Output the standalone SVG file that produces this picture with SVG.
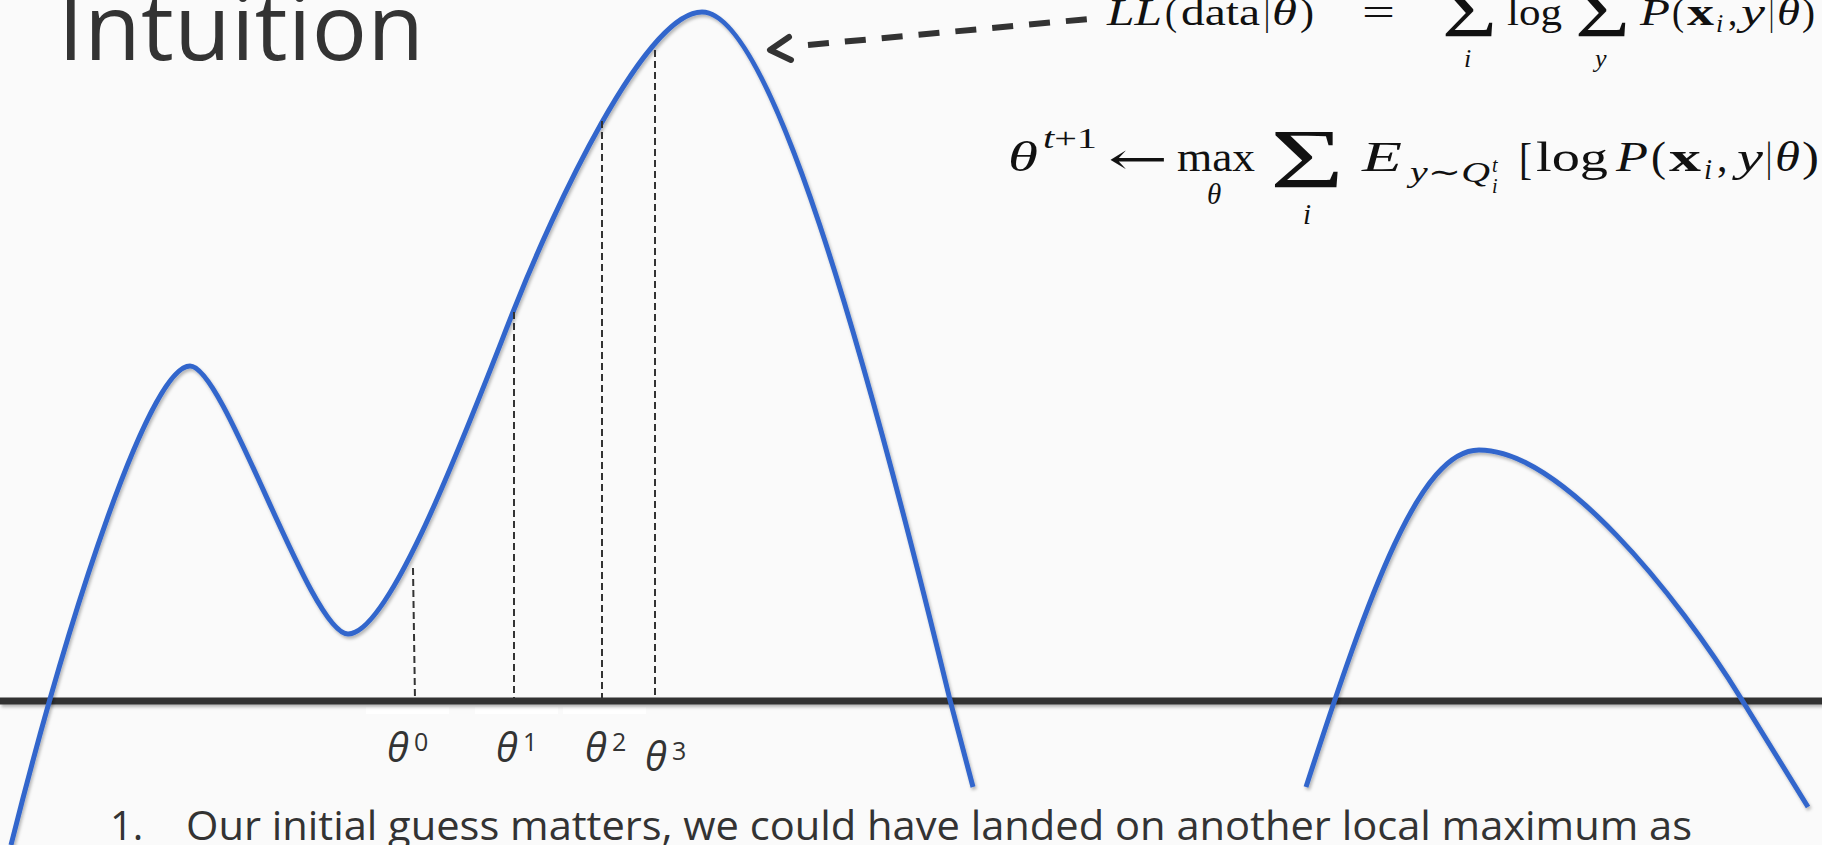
<svg xmlns="http://www.w3.org/2000/svg" width="1822" height="845" viewBox="0 0 1822 845">
<defs>
<filter id="sh" filterUnits="userSpaceOnUse" x="0" y="0" width="1822" height="845">
<feDropShadow dx="1.5" dy="2.5" stdDeviation="1.5" flood-color="#000" flood-opacity="0.28"/>
</filter>
<style>
.curve{fill:none;stroke:#3366cc;stroke-width:5;filter:url(#sh)}
.axis{stroke:#333;stroke-width:7;filter:url(#sh)}
.guide{stroke:#333;stroke-width:2;stroke-dasharray:7 4;fill:none}
.ptr{stroke:#333;stroke-width:6;fill:none}
.ui{font-family:"Open Sans","Noto Sans",sans-serif;fill:#333}
.m{font-family:"Liberation Serif","DejaVu Serif",serif;fill:#111;font-size:37px}
.m2{font-size:42px}
.i{font-style:italic}
.s{font-size:26px}
.s2{font-size:29px}
.ss{font-size:20px}
.big{font-size:74px}
.big2{font-size:84px}
.box{fill:#ffffff}
</style>
</defs>
<rect width="1822" height="845" fill="#fafafa"/>

<g id="title">
<text class="ui" x="58" y="60" font-size="92" textLength="366">Intuition</text>
</g>

<g id="label-boxes">
<rect class="box" x="366" y="707" width="83" height="7"/>
<rect class="box" x="475" y="707" width="83" height="7"/>
<rect class="box" x="563" y="707" width="83" height="7"/>
</g>

<g id="axis">
<line class="axis" x1="0" y1="701" x2="1822" y2="701"/>
</g>

<g id="curves">
<path class="curve" d="M 11 845 C 70 610 150 366 190 366 C 225 366 310 634 348 634 C 390 634 465 434 513 312 C 553 210 645 12 702 12 C 770 12 865 350 950 700 L 973 787"/>
<path class="curve" d="M 1306 787 C 1370 590 1420 450 1479 450 C 1560 450 1676 593 1742 700 L 1808 807"/>
</g>

<g id="guides">
<line class="guide" x1="413" y1="568" x2="415" y2="700"/>
<line class="guide" x1="514" y1="312" x2="514" y2="700"/>
<line class="guide" x1="602" y1="121" x2="602" y2="700"/>
<line class="guide" x1="655" y1="50" x2="655" y2="700"/>
</g>

<g id="connectors">
<path class="ptr" d="M 808 45 L 1089 19" stroke-dasharray="21 16"/>
<polyline class="ptr" points="789,37 770,50 791,60" stroke-linecap="round" stroke-linejoin="round"/>
</g>

<g id="theta-labels" class="ui">
<text x="387" y="762" font-size="40" font-style="italic">θ</text><text x="414" y="751" font-size="25">0</text>
<text x="496" y="762" font-size="40" font-style="italic">θ</text><text x="523" y="751" font-size="25">1</text>
<text x="585" y="762" font-size="40" font-style="italic">θ</text><text x="612" y="751" font-size="25">2</text>
<text x="645" y="771" font-size="40" font-style="italic">θ</text><text x="672" y="760" font-size="25">3</text>
</g>

<g id="formula-ll" class="m">
<text class="i" x="1107" y="25" textLength="55" lengthAdjust="spacingAndGlyphs">LL</text>
<text x="1165" y="25" textLength="12" lengthAdjust="spacingAndGlyphs">(</text>
<text x="1181" y="25" textLength="79" lengthAdjust="spacingAndGlyphs">data</text>
<text x="1264" y="25" textLength="6" lengthAdjust="spacingAndGlyphs">|</text>
<text class="i" x="1272" y="25" textLength="25" lengthAdjust="spacingAndGlyphs">θ</text>
<text x="1300" y="25" textLength="14" lengthAdjust="spacingAndGlyphs">)</text>
<text x="1362" y="25" textLength="33" lengthAdjust="spacingAndGlyphs">=</text>
<text class="big" x="1442" y="37" textLength="55" lengthAdjust="spacingAndGlyphs">Σ</text>
<text class="i s" x="1464" y="67">i</text>
<text x="1507" y="25" textLength="55" lengthAdjust="spacingAndGlyphs">log</text>
<text class="big" x="1575" y="37" textLength="55" lengthAdjust="spacingAndGlyphs">Σ</text>
<text class="i s" x="1595" y="67">y</text>
<text class="i" x="1640" y="25" textLength="30" lengthAdjust="spacingAndGlyphs">P</text>
<text x="1672" y="25" textLength="12" lengthAdjust="spacingAndGlyphs">(</text>
<text x="1687" y="25" font-weight="bold" textLength="27" lengthAdjust="spacingAndGlyphs">x</text>
<text class="i s" x="1716" y="32">i</text>
<text x="1728" y="25">,</text>
<text class="i" x="1741" y="25" textLength="24" lengthAdjust="spacingAndGlyphs">y</text>
<text x="1769" y="25" textLength="5" lengthAdjust="spacingAndGlyphs">|</text>
<text class="i" x="1777" y="25" textLength="23" lengthAdjust="spacingAndGlyphs">θ</text>
<text x="1802" y="25" textLength="13" lengthAdjust="spacingAndGlyphs">)</text>
</g>

<g id="formula-update" class="m m2">
<text class="i" x="1008" y="171" textLength="30" lengthAdjust="spacingAndGlyphs">θ</text>
<text class="s2" x="1043" y="148" textLength="54" lengthAdjust="spacingAndGlyphs"><tspan font-style="italic">t</tspan>+1</text>
<text x="1108" y="174" font-family="DejaVu Serif, serif" font-size="44" textLength="60" lengthAdjust="spacingAndGlyphs">←</text>
<text x="1177" y="171" textLength="78" lengthAdjust="spacingAndGlyphs">max</text>
<text class="i s2" x="1207" y="204">θ</text>
<text class="big2" x="1270" y="188" textLength="74" lengthAdjust="spacingAndGlyphs">Σ</text>
<text class="i s2" x="1303" y="224">i</text>
<text class="i" x="1362" y="171" textLength="40" lengthAdjust="spacingAndGlyphs">E</text>
<text class="s2" x="1410" y="182" textLength="80" lengthAdjust="spacingAndGlyphs"><tspan font-style="italic">y</tspan>∼<tspan font-style="italic">Q</tspan></text>
<text class="i ss" x="1492" y="172">t</text>
<text class="i ss" x="1492" y="193">i</text>
<text x="1519" y="174" font-size="45" textLength="13" lengthAdjust="spacingAndGlyphs">[</text>
<text x="1536" y="171" textLength="72" lengthAdjust="spacingAndGlyphs">log</text>
<text class="i" x="1616" y="171" textLength="32" lengthAdjust="spacingAndGlyphs">P</text>
<text x="1651" y="171" textLength="15" lengthAdjust="spacingAndGlyphs">(</text>
<text x="1669" y="171" font-weight="bold" textLength="32" lengthAdjust="spacingAndGlyphs">x</text>
<text class="i s2" x="1704" y="179">i</text>
<text x="1717" y="171">,</text>
<text class="i" x="1737" y="171" textLength="26" lengthAdjust="spacingAndGlyphs">y</text>
<text x="1766" y="171" textLength="6" lengthAdjust="spacingAndGlyphs">|</text>
<text class="i" x="1775" y="171" textLength="25" lengthAdjust="spacingAndGlyphs">θ</text>
<text x="1802" y="171" textLength="17" lengthAdjust="spacingAndGlyphs">)</text>
</g>

<g id="note" class="ui">
<text x="110" y="840" font-size="40">1.</text>
<text x="186" y="840" font-size="40" textLength="1506" lengthAdjust="spacingAndGlyphs">Our initial guess matters, we could have landed on another local maximum as</text>
</g>
</svg>
